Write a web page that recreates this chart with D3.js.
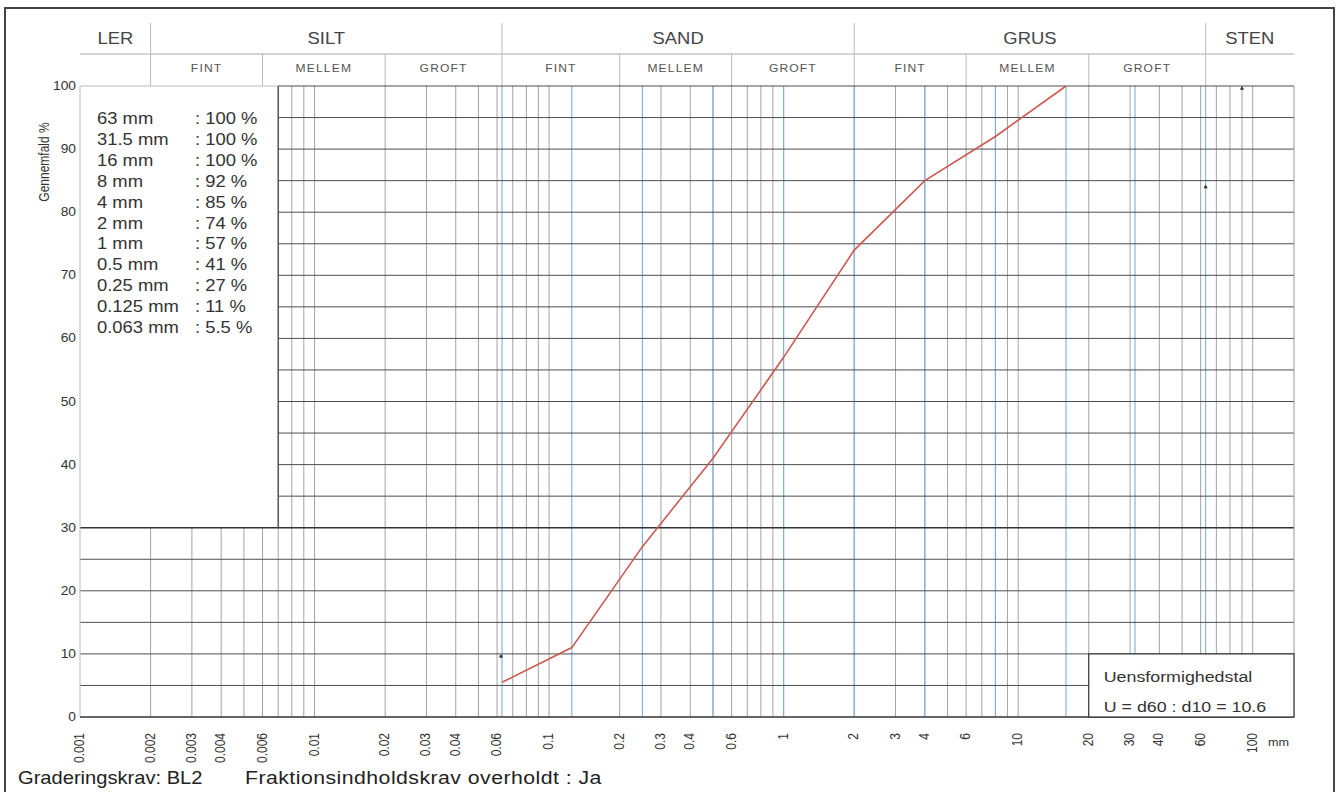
<!DOCTYPE html>
<html>
<head>
<meta charset="utf-8">
<script src="https://cdn.jsdelivr.net/npm/d3@7"></script>
<style>
  body { margin: 0; background: #fff; }
  text { font-family: "Liberation Sans", Arial, sans-serif; fill: #333; }
</style>
</head>
<body>
<svg class="kurve"></svg>
<script>

//DATA------------------------------------------------------
//---------------------------------------------------------

// sigteanalyse (kornstørrelse i mm, gennemfald i %)
let sigter = [0.063, 0.125, 0.25, 0.5, 1, 2, 4, 8, 16, 31.5, 63];
let gennemfald = [5.5, 11, 27, 41, 57, 74, 85, 92, 100, 100, 100];

// jordarter i hovedet
let hovedNavne = ["LER", "SILT", "SAND", "GRUS", "STEN"];
let hovedGraenser = [0.001, 0.002, 0.063, 2, 63, 150];
let underNavne = ["FINT", "MELLEM", "GROFT", "FINT", "MELLEM", "GROFT", "FINT", "MELLEM", "GROFT"];
let underGraenser = [0.002, 0.006, 0.02, 0.063, 0.2, 0.6, 2, 6, 20, 63];

// aksernes tekster
let xLabels = [0.001, 0.002, 0.003, 0.004, 0.006, 0.01, 0.02, 0.03, 0.04, 0.06, 0.1, 0.2, 0.3, 0.4, 0.6,
               1, 2, 3, 4, 6, 10, 20, 30, 40, 60, 100];
let yLabels = [0, 10, 20, 30, 40, 50, 60, 70, 80, 90, 100];
let yGitter = [5, 10, 15, 20, 25, 30, 35, 40, 45, 50, 55, 60, 65, 70, 75, 80, 85, 90, 95, 100];

// små krav-mærker
let kravStr = [0.063, 63, 90];
let kravPct = [9.6, 84, 99.6];
let kravForm = ["dot", "tri", "tri"];


//SVG-------------------------------------------------------
//---------------------------------------------------------

let w = 1341;
let h = 792;
let sx = 1.15; // scanningen er lidt strakt på tværs

let svg = d3.select(".kurve")
  .attr("width", w)
  .attr("height", h);

let x = d3.scaleLog().domain([0.001, 150]).range([80, 1294]);
let y = d3.scaleLinear().domain([0, 100]).range([717, 86]);

// hjælper til tekst med lidt bredde
let tekst = function(g, px, py, s, size, anchor, rot) {
  return g.append("text")
    .attr("transform", "translate(" + px + "," + py + ") scale(" + sx + ",1)" + (rot ? " rotate(" + rot + ")" : ""))
    .attr("text-anchor", anchor || "start")
    .style("font-size", size + "px")
    .text(s);
};

// ramme
svg.append("rect")
  .attr("x", 5).attr("y", 8)
  .attr("width", 1329).attr("height", 800)
  .attr("fill", "none")
  .attr("stroke", "#444")
  .attr("stroke-width", 2);


//HOVED-----------------------------------------------------
//---------------------------------------------------------

let hoved = svg.append("g");

hoved.append("line")
  .attr("x1", x(0.001)).attr("x2", x(150))
  .attr("y1", 54).attr("y2", 54)
  .attr("stroke", "#aaa");

hoved.selectAll(".hsep")
  .data(hovedGraenser.slice(1, -1))
  .enter().append("line")
  .attr("x1", d => x(d)).attr("x2", d => x(d))
  .attr("y1", 23).attr("y2", 86)
  .attr("stroke", "#bbb");

hoved.selectAll(".usep")
  .data(underGraenser.slice(1, -1).filter(d => hovedGraenser.indexOf(d) < 0))
  .enter().append("line")
  .attr("x1", d => x(d)).attr("x2", d => x(d))
  .attr("y1", 54).attr("y2", 86)
  .attr("stroke", "#bbb");

hovedNavne.forEach(function(n, i) {
  let cx = (x(hovedGraenser[i]) + x(hovedGraenser[i + 1])) / 2;
  tekst(hoved, cx, 44, n, 16, "middle").style("fill", "#444");
});

underNavne.forEach(function(n, i) {
  let cx = (x(underGraenser[i]) + x(underGraenser[i + 1])) / 2;
  tekst(hoved, cx, 72, n, 10.5, "middle")
    .style("fill", "#555")
    .style("letter-spacing", "1px");
});


//GITTER----------------------------------------------------
//---------------------------------------------------------

let gitter = svg.append("g");

// lodrette linjer, kun 1..9 pr dekade
let lodret = x.ticks().filter(d => d >= 0.0019 && d <= 100.1);

gitter.selectAll(".lod")
  .data(lodret)
  .enter().append("line")
  .attr("x1", d => x(d)).attr("x2", d => x(d))
  .attr("y1", d => d >= 0.0069 ? y(100) : y(30))
  .attr("y2", y(0))
  .attr("stroke", "#8c8c8c")
  .attr("stroke-width", 0.8);

// blå linjer ved sigterne
gitter.selectAll(".blaa")
  .data(sigter)
  .enter().append("line")
  .attr("x1", d => x(d)).attr("x2", d => x(d))
  .attr("y1", y(100)).attr("y2", y(0))
  .attr("stroke", "#7eb0e0")
  .attr("stroke-width", 1.1);

// vandrette linjer
gitter.selectAll(".vand")
  .data(yGitter)
  .enter().append("line")
  .attr("x1", d => d > 30 ? x(0.007) : x(0.001))
  .attr("x2", x(150))
  .attr("y1", d => y(d)).attr("y2", d => y(d))
  .attr("stroke", d => d == 30 ? "#333" : "#4d4d4d")
  .attr("stroke-width", d => d == 30 ? 1.4 : 1);

// y-akse og kant
gitter.append("line")
  .attr("x1", x(0.001)).attr("x2", x(0.001))
  .attr("y1", y(100)).attr("y2", y(0))
  .attr("stroke", "#bbb");
gitter.append("line")
  .attr("x1", x(0.001)).attr("x2", x(0.007))
  .attr("y1", y(100)).attr("y2", y(100))
  .attr("stroke", "#bbb");
gitter.append("line")
  .attr("x1", x(150)).attr("x2", x(150))
  .attr("y1", y(100)).attr("y2", y(0))
  .attr("stroke", "#999");
gitter.append("line")
  .attr("x1", x(0.007)).attr("x2", x(0.007))
  .attr("y1", y(100)).attr("y2", y(30))
  .attr("stroke", "#444")
  .attr("stroke-width", 1.2);
gitter.append("line")
  .attr("x1", x(0.001)).attr("x2", x(150))
  .attr("y1", y(0)).attr("y2", y(0))
  .attr("stroke", "#333")
  .attr("stroke-width", 1.6);


//AKSER-----------------------------------------------------
//---------------------------------------------------------

let akser = svg.append("g");

yLabels.forEach(function(v) {
  tekst(akser, 76, y(v) + 4, v, 12, "end");
});

tekst(akser, 49, 162, "Gennemfald %", 12, "middle", -90);

xLabels.forEach(function(v) {
  tekst(akser, x(v) + 4, 733, v, 12, "end", -90);
});

tekst(akser, 1268, 746, "mm", 11, "start");


//KURVE-----------------------------------------------------
//---------------------------------------------------------

let slut = gennemfald.indexOf(100);
let punkter = sigter.slice(0, slut + 1).map((d, i) => [d, gennemfald[i]]);

let linje = d3.line()
  .x(d => x(d[0]))
  .y(d => y(d[1]));

svg.append("path")
  .datum(punkter)
  .attr("d", linje)
  .attr("fill", "none")
  .attr("stroke", "#cc5a50")
  .attr("stroke-width", 1.6);

// krav-mærker
kravStr.forEach(function(d, i) {
  if (kravForm[i] == "dot") {
    svg.append("circle")
      .attr("cx", x(d) - 1).attr("cy", y(kravPct[i]))
      .attr("r", 1.6).attr("fill", "#333");
  } else {
    svg.append("path")
      .attr("d", d3.symbol().type(d3.symbolTriangle).size(8))
      .attr("transform", "translate(" + x(d) + "," + y(kravPct[i]) + ")")
      .attr("fill", "#333");
  }
});


//LEGENDE---------------------------------------------------
//---------------------------------------------------------

let legende = svg.append("g");

sigter.slice().reverse().forEach(function(d, i) {
  let p = gennemfald[sigter.length - 1 - i];
  let ly = 124 + i * 20.9;
  tekst(legende, 97, ly, d + " mm", 16, "start");
  tekst(legende, 195, ly, ": " + p + " %", 16, "start");
});

// boks med uensformighedstal
legende.append("rect")
  .attr("x", x(20)).attr("y", y(10))
  .attr("width", x(150) - x(20)).attr("height", y(0) - y(10))
  .attr("fill", "#fff")
  .attr("stroke", "#333")
  .attr("stroke-width", 1.2);

tekst(legende, x(20) + 15, 682, "Uensformighedstal", 15.5, "start");
tekst(legende, x(20) + 15, 712, "U = d60 : d10 = 10.6", 15.5, "start");


//BUNDTEKST-------------------------------------------------
//---------------------------------------------------------

tekst(svg, 18, 784, "Graderingskrav: BL2", 17.5, "start").style("fill", "#222");
tekst(svg, 245, 784, "Fraktionsindholdskrav overholdt : Ja", 18.5, "start")
  .style("fill", "#222")
  .style("letter-spacing", "0.4px");

</script>
</body>
</html>
